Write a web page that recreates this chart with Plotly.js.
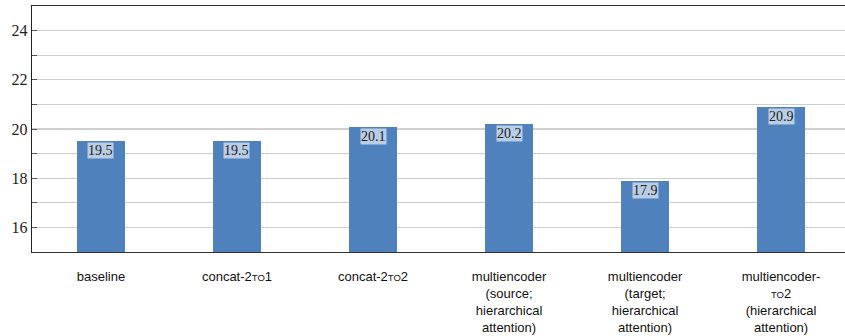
<!DOCTYPE html>
<html>
<head>
<meta charset="utf-8">
<script src="https://cdn.plot.ly/plotly-3.0.1.min.js"></script>
<style>html,body{margin:0;padding:0;background:#fff;}#chart{width:845px;height:336px;}</style>
</head>
<body>
<div id="chart"></div>
<script>
const categories = [
  'baseline',
  'concat-2<span style="font-size:9.5px">TO</span>1',
  'concat-2<span style="font-size:9.5px">TO</span>2',
  'multiencoder<br>(source;<br>hierarchical<br>attention)',
  'multiencoder<br>(target;<br>hierarchical<br>attention)',
  'multiencoder-<br><span style="font-size:9.5px">TO</span>2<br>(hierarchical<br>attention)'
];
const values = [19.5, 19.5, 20.1, 20.2, 17.9, 20.9];
const valueLabels = ['19.5', '19.5', '20.1', '20.2', '17.9', '20.9'];
const yTicks = [16, 18, 20, 22, 24];

const trace = {
  type: 'bar',
  x: categories,
  y: values,
  base: 0,
  width: 0.355,
  marker: {color: '#4f81bd', line: {width: 0}},
  hoverinfo: 'none'
};

const annotations = categories.map((c, i) => ({
  x: c, y: values[i], xref: 'x', yref: 'y',
  text: valueLabels[i], showarrow: false,
  yanchor: 'top', yshift: -1,
  bgcolor: '#b9cde5', borderpad: 0,
  font: {family: '"Liberation Serif", "DejaVu Serif", serif', size: 14, color: '#222'}
}));

const layout = {
  width: 845, height: 336,
  margin: {l: 32, r: 0, t: 6, b: 84},
  paper_bgcolor: '#fff', plot_bgcolor: '#fff',
  showlegend: false,
  bargap: 0,
  xaxis: {
    type: 'category',
    range: [-0.507, 5.47],
    showline: true, linecolor: '#333', linewidth: 1.3, mirror: true,
    ticks: '', showgrid: false, zeroline: false,
    tickangle: 0,
    ticklabelstandoff: 12,
    tickfont: {family: '"Liberation Sans", Arial, sans-serif', size: 13, color: '#111'},
    automargin: false
  },
  yaxis: {
    range: [15, 25],
    tickvals: yTicks,
    ticktext: yTicks.map(String),
    showline: true, linecolor: '#222', linewidth: 1.3,
    ticks: 'inside', ticklen: 5, tickcolor: '#555', tickwidth: 1,
    showgrid: true, gridcolor: '#cfcfcf', gridwidth: 1.2,
    zeroline: false,
    minor: {dtick: 1, tick0: 15, showgrid: true, gridcolor: '#cfcfcf', gridwidth: 1.2, ticks: 'inside', ticklen: 5, tickcolor: '#555'},
    tickfont: {family: '"Liberation Serif", "DejaVu Serif", serif', size: 16, color: '#222'},
    automargin: false
  },
  annotations: annotations
};

Plotly.newPlot('chart', [trace], layout, {staticPlot: true, displayModeBar: false});
</script>
</body>
</html>
